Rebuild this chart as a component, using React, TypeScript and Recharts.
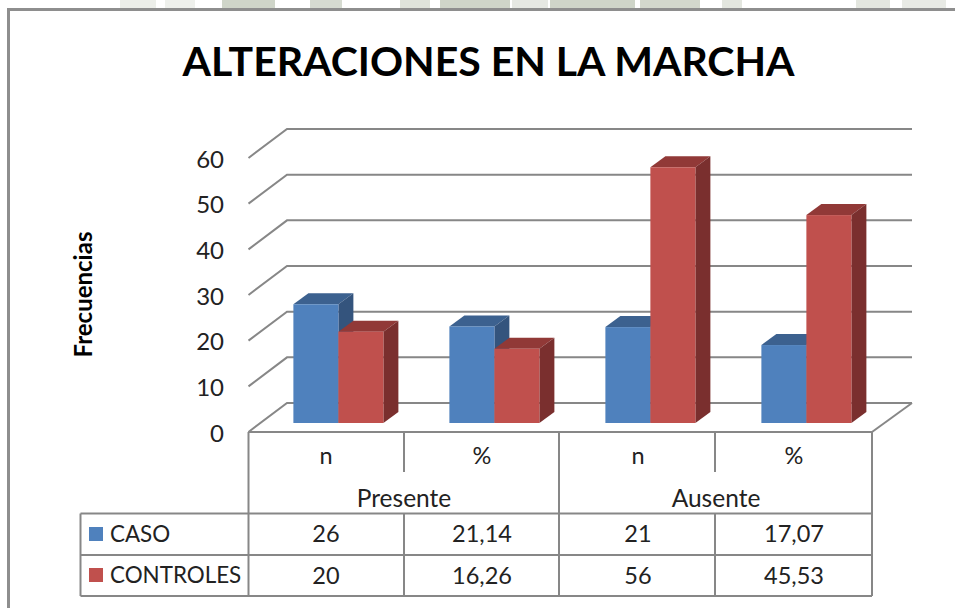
import React from "react";
import { BarChart, Bar, XAxis, YAxis, CartesianGrid } from "recharts";

const categories = ["n", "%", "n", "%"];
const groups = ["Presente", "Ausente"];
const casoValues = [26, 21.14, 21, 17.07];
const controlesValues = [20, 16.26, 56, 45.53];
const casoLabels = ["26", "21,14", "21", "17,07"];
const controlesLabels = ["20", "16,26", "56", "45,53"];
const yTicks = [0, 10, 20, 30, 40, 50, 60];

const data = categories.map((category, i) => ({
  key: `${category}-${i}`,
  category,
  caso: casoValues[i],
  controles: controlesValues[i],
  casoLabel: casoLabels[i],
  controlesLabel: controlesLabels[i],
}));

const FONT = "Lato, sans-serif";
const LINE = "#878787";
const TEXT = "#222222";

// background scraps that show above the frame
const scraps = [
  [120, 36, "#eceee9"],
  [165, 30, "#eef0ec"],
  [222, 53, "#cfd5c9"],
  [310, 32, "#d6dbd1"],
  [400, 30, "#dfe3db"],
  [440, 70, "#cfd5c9"],
  [512, 36, "#e6e8e3"],
  [550, 85, "#cfd5c9"],
  [640, 60, "#d3d8cd"],
  [722, 20, "#e3e6df"],
  [856, 34, "#e3e6df"],
  [902, 44, "#e8eae5"],
];

const Bar3D = ({ x, y, width, height, fill, topFill, sideFill }: any) => {
  const dx = 15;
  const dy = -11;
  const r = x + width;
  const b = y + height;
  return (
    <g>
      <polygon points={`${x},${y} ${x + dx},${y + dy} ${r + dx},${y + dy} ${r},${y}`} fill={topFill} />
      <polygon points={`${r},${y} ${r + dx},${y + dy} ${r + dx},${b + dy} ${r},${b}`} fill={sideFill} />
      <rect x={x} y={y} width={width} height={height} fill={fill} />
    </g>
  );
};

// each horizontal grid line is bent along the side wall and the back wall
const WallLine = ({ x1, x2, y1, index }: any) => {
  const left = x1 - 11.5;
  const back = x1 + 27;
  const right = x2 + 28;
  return (
    <g fill="none" stroke={LINE} strokeWidth={2}>
      <polyline points={`${left},${y1 + 9} ${back},${y1 - 20} ${right},${y1 - 20}`} />
      {index === 0 && <polyline points={`${right},${y1 - 20} ${x2 - 12},${y1 + 9}`} />}
    </g>
  );
};

const YTick = ({ y, payload }: any) => (
  <text x={224} y={y + 18.5} textAnchor="end" fontFamily={FONT} fontSize={24} fill={TEXT}>
    {payload.value}
  </text>
);

// one table column per category: axis label, group label and the two values
const ColumnTick = ({ x, payload, index }: any) => {
  const row = data[payload.index ?? index];
  const cx = x - 12;
  return (
    <g fontFamily={FONT} fontSize={23.5} fill={TEXT} textAnchor="middle">
      <text x={cx} y={464}>{row.category}</text>
      {index % 2 === 0 && <text x={x + 66} y={507} fontSize={24.5}>{groups[index / 2]}</text>}
      <text x={cx} y={542}>{row.casoLabel}</text>
      <text x={cx} y={584}>{row.controlesLabel}</text>
    </g>
  );
};

const TableLines = () => {
  const cols = [248.5, 404, 559, 715, 872];
  return (
    <g stroke={LINE} strokeWidth={2} fill="none">
      <line x1={248.5} y1={432} x2={872} y2={432} />
      <line x1={80.5} y1={513.5} x2={872} y2={513.5} />
      <line x1={80.5} y1={555} x2={872} y2={555} />
      <line x1={80.5} y1={596} x2={872} y2={596} />
      <line x1={80.5} y1={513.5} x2={80.5} y2={596} />
      {cols.map((c, i) =>
        i % 2 === 0 ? (
          <line key={c} x1={c} y1={432} x2={c} y2={596} />
        ) : (
          <g key={c}>
            <line x1={c} y1={432} x2={c} y2={472} />
            <line x1={c} y1={513.5} x2={c} y2={596} />
          </g>
        )
      )}
    </g>
  );
};

export default function App() {
  return (
    <div style={{ position: "absolute", left: 0, top: 0, width: 955, height: 608, background: "#fff", overflow: "hidden" }}>
      {scraps.map(([left, width, color]: any) => (
        <div key={left} style={{ position: "absolute", left, top: 0, width, height: 8, background: color }} />
      ))}
      <div style={{ position: "absolute", left: 7, top: 8, right: 0, height: 3, background: "#8e8e8e" }} />
      <div style={{ position: "absolute", left: 7, top: 8, bottom: 0, width: 3, background: "#8e8e8e" }} />
      <div style={{ position: "absolute", left: 0, top: 0 }}>
        <BarChart
          width={955}
          height={608}
          data={data}
          margin={{ top: 149, right: 71, bottom: 155, left: 200 }}
          barCategoryGap="21.4%"
          barGap={0}
        >
          <CartesianGrid vertical={false} horizontal={(p: any) => <WallLine key={p.key} {...p} />} />
          <XAxis
            dataKey="key"
            height={30}
            interval={0}
            axisLine={false}
            tickLine={false}
            tick={<ColumnTick />}
          />
          <YAxis
            width={60}
            domain={[0, 60]}
            ticks={yTicks}
            axisLine={false}
            tickLine={false}
            tick={<YTick />}
          />
          <Bar
            dataKey="caso"
            isAnimationActive={false}
            shape={(p: any) => <Bar3D {...p} fill="#4F81BD" topFill="#3C618F" sideFill="#34547D" />}
          />
          <Bar
            dataKey="controles"
            isAnimationActive={false}
            shape={(p: any) => <Bar3D {...p} fill="#C0504D" topFill="#913937" sideFill="#7A2F2E" />}
          />
          <TableLines />
          <rect x={89} y={527} width={14} height={14} fill="#4F81BD" />
          <rect x={89} y={568} width={14} height={14} fill="#C0504D" />
          <text x={110} y={542} fontFamily={FONT} fontSize={22.4} fill={TEXT}>CASO</text>
          <text x={110} y={583} fontFamily={FONT} fontSize={22.4} fill={TEXT}>CONTROLES</text>
          <text x={488.5} y={76} textAnchor="middle" fontFamily={FONT} fontWeight={700} fontSize={41} fill="#000">
            ALTERACIONES EN LA MARCHA
          </text>
          <text
            x={92}
            y={294.5}
            textAnchor="middle"
            transform="rotate(-90 92 294.5)"
            fontFamily={FONT}
            fontWeight={700}
            fontSize={24}
            fill="#000"
          >
            Frecuencias
          </text>
        </BarChart>
      </div>
    </div>
  );
}
